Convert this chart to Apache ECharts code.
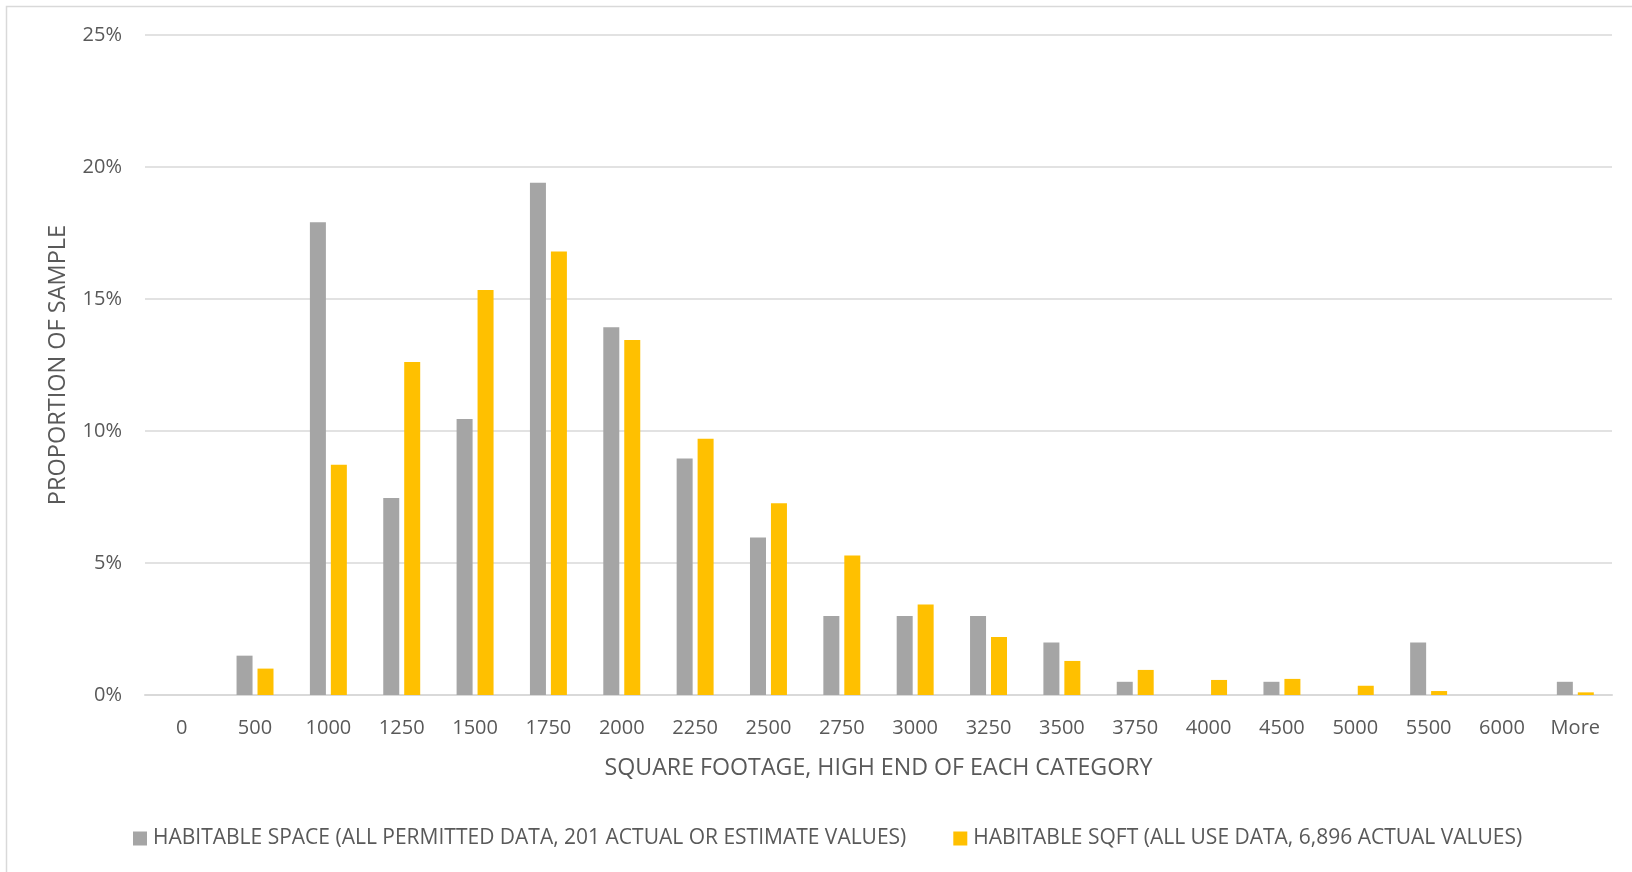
<!DOCTYPE html>
<html>
<head>
<meta charset="utf-8">
<script src="https://cdn.jsdelivr.net/npm/echarts@6/dist/echarts.min.js"></script>
<style>
html,body{margin:0;padding:0;background:#fff;}
#chart{width:1632px;height:872px;}
</style>
</head>
<body>
<div id="chart"></div>
<script>
const categories = ['0','500','1000','1250','1500','1750','2000','2250','2500','2750','3000','3250','3500','3750','4000','4500','5000','5500','6000','More'];
const permittedName = 'HABITABLE SPACE (ALL PERMITTED DATA, 201 ACTUAL OR ESTIMATE VALUES)';
const useName = 'HABITABLE SQFT (ALL USE DATA, 6,896 ACTUAL VALUES)';
const permittedValues = [0, 1.49, 17.91, 7.46, 10.45, 19.40, 13.93, 8.96, 5.97, 2.99, 2.99, 2.99, 1.99, 0.50, 0, 0.50, 0, 1.99, 0, 0.50];
const useValues = [0, 1.00, 8.72, 12.61, 15.34, 16.80, 13.45, 9.71, 7.26, 5.28, 3.43, 2.20, 1.29, 0.95, 0.57, 0.61, 0.35, 0.15, 0, 0.10];
const yTicks = {min: 0, max: 25, interval: 5};
const xAxisName = 'SQUARE FOOTAGE, HIGH END OF EACH CATEGORY';
const yAxisName = 'PROPORTION OF SAMPLE';

const FONT = '"Open Sans", sans-serif';
const TXT = '#595959';
const chart = echarts.init(document.getElementById('chart'), null, {renderer: 'canvas'});
chart.setOption({
  animation: false,
  backgroundColor: '#fff',
  textStyle: {fontFamily: FONT},
  graphic: [{
    type: 'rect', silent: true,
    shape: {x: 6.5, y: 6.5, width: 1700, height: 900},
    style: {fill: 'none', stroke: '#d9d9d9', lineWidth: 1.5}
  }],
  grid: {left: 145, right: 20, top: 35, bottom: 177, containLabel: false},
  legend: {
    left: 128, top: 823,
    itemWidth: 14, itemHeight: 14, itemGap: 47,
    icon: 'rect',
    textStyle: {fontFamily: FONT, fontSize: 21, color: TXT, padding: [0,0,0,1]},
    data: [permittedName, useName]
  },
  xAxis: {
    type: 'category',
    data: categories,
    name: xAxisName,
    nameLocation: 'middle',
    nameGap: 62,
    nameTextStyle: {fontFamily: FONT, fontSize: 23.2, color: TXT},
    axisLine: {lineStyle: {color: '#d9d9d9', width: 2}},
    axisTick: {show: false},
    axisLabel: {fontFamily: FONT, fontSize: 20, color: TXT, margin: 23, interval: 0}
  },
  yAxis: {
    type: 'value',
    min: yTicks.min, max: yTicks.max, interval: yTicks.interval,
    name: yAxisName,
    nameLocation: 'middle',
    nameGap: 75,
    nameTextStyle: {fontFamily: FONT, fontSize: 23.5, color: TXT},
    axisLine: {show: false},
    axisTick: {show: false},
    splitLine: {lineStyle: {color: '#d9d9d9', width: 1.5}},
    axisLabel: {fontFamily: FONT, fontSize: 20, color: TXT, margin: 23, formatter: '{value}%'}
  },
  series: [
    {name: permittedName, type: 'bar', data: permittedValues, barWidth: 16, barGap: '31%',
     itemStyle: {color: '#a5a5a5'}},
    {name: useName, type: 'bar', data: useValues, barWidth: 16,
     itemStyle: {color: '#ffc000'}}
  ]
});
</script>
</body>
</html>
